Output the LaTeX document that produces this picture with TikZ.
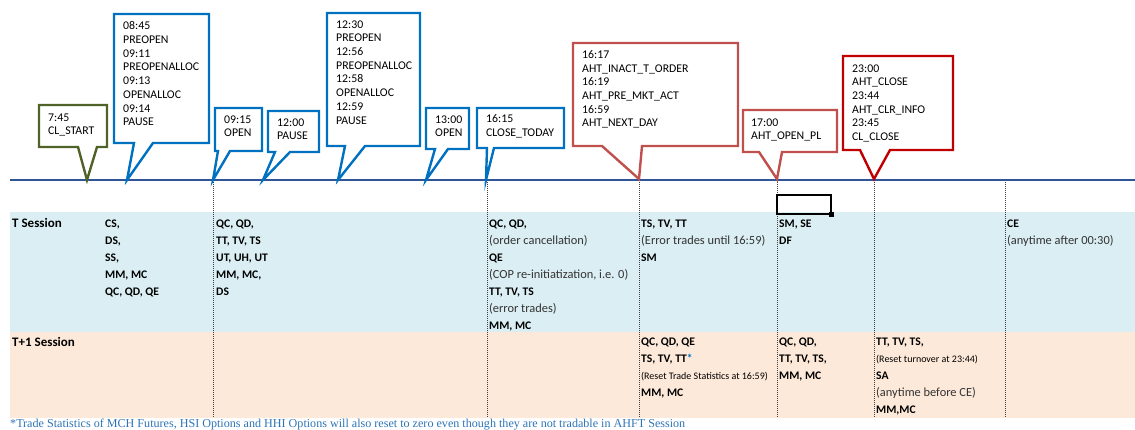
\documentclass[tikz,border=0pt]{standalone}
\usepackage{fontspec}
\setmainfont{Carlito}
\newfontfamily\notefont{Liberation Serif}

\definecolor{axisblue}{HTML}{2F5597}
\definecolor{callblue}{HTML}{0070C0}
\definecolor{callgreen}{HTML}{4F6228}
\definecolor{callred}{HTML}{C0504D}
\definecolor{calldark}{HTML}{C00000}
\definecolor{bandblue}{HTML}{DAEEF3}
\definecolor{bandpink}{HTML}{FDE9D9}
\definecolor{noteblue}{HTML}{2E74B5}

\tikzset{
  callbox/.style={fill=white, line width=2.4pt, line join=miter},
  calltext/.style={anchor=north west, inner sep=0pt, align=left,
    font=\fontsize{11.8}{13.7}\selectfont},
  celltext/.style={anchor=north west, inner sep=0pt, align=left,
    font=\bfseries\fontsize{11.6}{17}\selectfont},
  colline/.style={black!75, line width=0.7pt, dash pattern=on 1pt off 1pt},
}
\newcommand{\nb}[1]{{\mdseries\fontsize{12.4}{17}\selectfont\color{black!80}#1}}
\newcommand{\sm}[1]{{\mdseries\fontsize{10}{17}\selectfont #1}}

\begin{document}
\begin{tikzpicture}[x=1pt,y=-1pt]
\useasboundingbox (0,0) rectangle (1135,430);

% session bands
\fill[bandblue] (10,212) rectangle (1135,332);
\fill[bandpink] (10,332) rectangle (1135,418);

% dotted column lines
\draw[colline] (213,180) -- (213,418);
\draw[colline] (487,180) -- (487,418);
\draw[colline] (639,180) -- (639,418);
\draw[colline] (777,180) -- (777,418);
\draw[colline] (874,180) -- (874,418);
\draw[colline] (1005,180) -- (1005,418);

% time axis
\draw[axisblue, line width=2pt] (10,180) -- (1135,180);

% selected cell
\draw[line width=1.6pt] (777,195) rectangle (831,214);
\fill (829,212) rectangle (834,217);

% 7:45 green
\draw[callbox, draw=callgreen] (39,105) -- (107,105) -- (107,147) -- (97,147) -- (87,180) -- (78,147) -- (39,147) -- cycle;
\node[calltext] (clstart) at (48,113.3) {7:45\\CL\_START};

% 08:45 blue
\draw[callbox, draw=callblue] (114,14) -- (209,14) -- (209,143) -- (153,143) -- (127,180) -- (134,143) -- (114,143) -- cycle;
\node[calltext] (amopen) at (123,21.6) {08:45\\PREOPEN\\09:11\\PREOPENALLOC\\09:13\\OPENALLOC\\09:14\\PAUSE};

% 09:15 blue
\draw[callbox, draw=callblue] (215,108) -- (262,108) -- (262,151) -- (230,151) -- (213,180) -- (218,151) -- (215,151) -- cycle;
\node[calltext] (amtrade) at (224,115.3) {09:15\\OPEN};

% 12:00 blue
\draw[callbox, draw=callblue] (268,111) -- (319,111) -- (319,152) -- (290,152) -- (263,180) -- (275,152) -- (268,152) -- cycle;
\node[calltext] (noon) at (277,118.3) {12:00\\PAUSE};

% 12:30 blue
\draw[callbox, draw=callblue] (327,13) -- (420,13) -- (420,146) -- (365,146) -- (338,180) -- (345,146) -- (327,146) -- cycle;
\node[calltext] (pmopen) at (336,20.3) {12:30\\PREOPEN\\12:56\\PREOPENALLOC\\12:58\\OPENALLOC\\12:59\\PAUSE};

% 13:00 blue
\draw[callbox, draw=callblue] (426,108) -- (469,108) -- (469,149) -- (448,149) -- (426,180) -- (435,149) -- (426,149) -- cycle;
\node[calltext] (pmtrade) at (435,115.3) {13:00\\OPEN};

% 16:15 blue
\draw[callbox, draw=callblue] (477,108) -- (564,108) -- (564,148) -- (494,148) -- (486,180) -- (487,148) -- (477,148) -- cycle;
\node[calltext] (closetoday) at (486,114.3) {16:15\\CLOSE\_TODAY};

% 16:17 red
\draw[callbox, draw=callred] (573,43) -- (738,43) -- (738,146) -- (642,146) -- (639,179) -- (602,146) -- (573,146) -- cycle;
\node[calltext] (ahtpre) at (582,50.3) {16:17\\AHT\_INACT\_T\_ORDER\\16:19\\AHT\_PRE\_MKT\_ACT\\16:59\\AHT\_NEXT\_DAY};

% 17:00 red
\draw[callbox, draw=callred] (743,110) -- (837,110) -- (837,152) -- (782,152) -- (777,179) -- (759,152) -- (743,152) -- cycle;
\node[calltext] (ahtopen) at (751,118.3) {17:00\\AHT\_OPEN\_PL};

% 23:00 dark red
\draw[callbox, draw=calldark] (843,56) -- (953,56) -- (953,150) -- (890,150) -- (874,179) -- (860,150) -- (843,150) -- cycle;
\node[calltext] (ahtclose) at (852,64.3) {23:00\\AHT\_CLOSE\\23:44\\AHT\_CLR\_INFO\\23:45\\CL\_CLOSE};

% T session
\node[celltext, font=\bfseries\fontsize{13}{17}\selectfont] (tlabel) at (12,217.8) {T Session};
\node[celltext] (tstart) at (105,219.3) {CS,\\DS,\\SS,\\MM, MC\\QC, QD, QE};
\node[celltext] (tam) at (216,219.3) {QC, QD,\\TT, TV, TS\\UT, UH, UT\\MM, MC,\\DS};
\node[celltext] (tclose) at (489,219.3) {QC, QD,\\\nb{(order cancellation)}\\QE\\\nb{(COP re-initiatization, i.e. 0)}\\TT, TV, TS\\\nb{(error trades)}\\MM, MC};
\node[celltext] (tpre) at (641,219.3) {TS, TV, TT\\\nb{(Error trades until 16:59)}\\SM};
\node[celltext] (topen) at (779,219.3) {SM, SE\\DF};
\node[celltext] (tnext) at (1007,219.3) {CE\\\nb{(anytime after 00:30)}};

% T+1 session
\node[celltext, font=\bfseries\fontsize{13}{17}\selectfont] (t1label) at (12,336.8) {T+1 Session};
\node[celltext] (t1pre) at (641,337.3) {QC, QD, QE\\TS, TV, TT{\color{callblue}*}\\\sm{(Reset Trade Statistics at 16:59)}\\MM, MC};
\node[celltext] (t1open) at (779,337.3) {QC, QD,\\TT, TV, TS,\\MM, MC};
\node[celltext] (t1close) at (876,337.3) {TT, TV, TS,\\\sm{(Reset turnover at 23:44)}\\SA\\\nb{(anytime before CE)}\\MM,MC};

% footnote
\node[anchor=base west, inner sep=0pt, text=noteblue, font=\notefont\fontsize{12.1}{14}\selectfont] (note) at (10,427.5) {*Trade Statistics of MCH Futures, HSI Options and HHI Options will also reset to zero even though they are not tradable in AHFT Session};
\end{tikzpicture}
\end{document}
